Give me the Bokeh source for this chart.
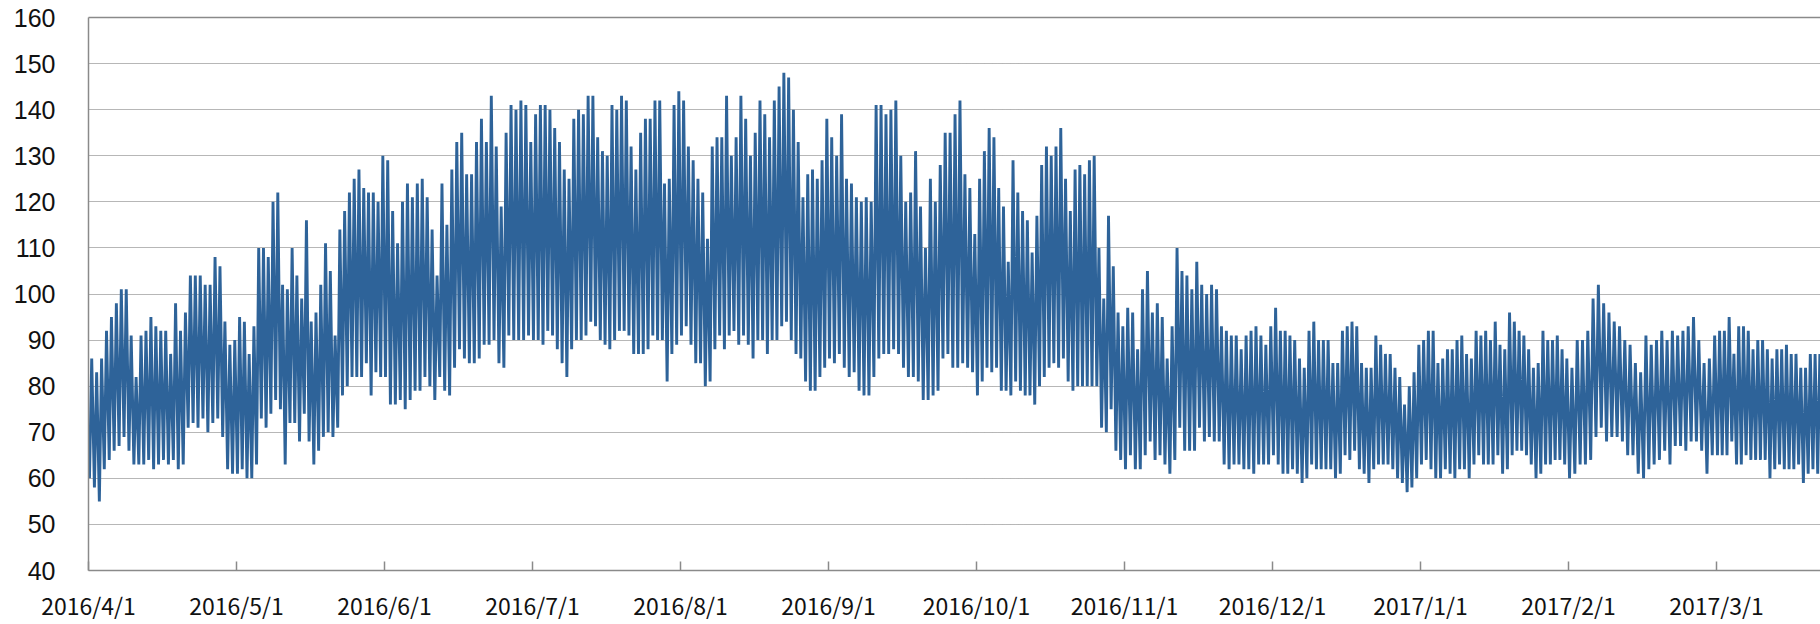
from bokeh.plotting import figure
from bokeh.models import FixedTicker, LinearAxis, Range1d, ColumnDataSource
from bokeh.embed import file_html
from bokeh.resources import INLINE

# ---- tick labels / categories ----
month_labels = ["2016/4/1", "2016/5/1", "2016/6/1", "2016/7/1", "2016/8/1", "2016/9/1",
                "2016/10/1", "2016/11/1", "2016/12/1", "2017/1/1", "2017/2/1", "2017/3/1"]
days_in_month = [30, 31, 30, 31, 31, 30, 31, 30, 31, 31, 28, 31]
y_ticks = [40, 50, 60, 70, 80, 90, 100, 110, 120, 130, 140, 150, 160]

# ---- daily peak (high) and night trough (low) values ----
apr_high = [86, 83, 86, 92, 95, 98, 101, 101, 91, 82, 91, 92, 95, 93, 92, 92, 87, 98, 92, 96,
            104, 104, 104, 102, 102, 108, 106, 94, 89, 90]
apr_low = [60, 58, 55, 62, 64, 66, 67, 69, 66, 63, 63, 63, 64, 62, 63, 64, 63, 64, 62, 63,
           71, 72, 71, 73, 70, 72, 73, 69, 62, 61]
may_high = [95, 94, 87, 93, 110, 110, 108, 120, 122, 102, 101, 110, 104, 99, 116, 94, 96, 102,
            111, 105, 91, 114, 118, 122, 125, 127, 123, 122, 122, 120, 130]
may_low = [61, 62, 60, 60, 63, 73, 71, 74, 77, 75, 63, 72, 72, 68, 74, 68, 63, 66, 69, 70, 69,
           71, 78, 80, 82, 82, 82, 85, 78, 83, 82]
jun_high = [129, 118, 111, 120, 124, 121, 124, 125, 121, 114, 104, 124, 115, 127, 133, 135, 126,
            126, 133, 138, 133, 143, 132, 119, 135, 141, 140, 142, 141, 133]
jun_low = [82, 76, 76, 77, 75, 77, 79, 79, 82, 80, 77, 82, 79, 78, 84, 88, 86, 85, 85, 86, 89,
           89, 90, 85, 84, 91, 90, 90, 90, 91]
jul_high = [139, 141, 141, 140, 136, 133, 127, 125, 138, 140, 139, 143, 143, 134, 131, 130, 141,
            140, 143, 142, 132, 127, 135, 138, 138, 142, 142, 124, 125, 141, 144]
jul_low = [90, 90, 89, 92, 91, 88, 85, 82, 88, 90, 90, 91, 94, 93, 90, 89, 88, 90, 92, 92, 91,
           87, 87, 87, 88, 91, 90, 90, 81, 87, 89]
aug_high = [142, 132, 129, 125, 122, 112, 132, 134, 134, 143, 130, 134, 143, 138, 130, 135, 142,
            139, 134, 142, 145, 148, 147, 140, 133, 121, 126, 127, 125, 129, 138]
aug_low = [91, 93, 89, 85, 85, 80, 81, 88, 91, 88, 91, 92, 89, 91, 89, 86, 90, 90, 87, 90, 90,
           93, 94, 90, 87, 86, 81, 79, 79, 82, 84]
sep_high = [134, 130, 139, 125, 124, 121, 120, 121, 120, 141, 141, 139, 140, 142, 130, 120, 122,
            131, 119, 110, 125, 120, 128, 135, 135, 139, 142, 126, 123, 113]
sep_low = [86, 85, 87, 84, 82, 83, 79, 78, 78, 82, 86, 87, 87, 88, 87, 84, 82, 82, 81, 77, 77,
           78, 79, 86, 87, 84, 84, 85, 84, 83]
oct_high = [125, 131, 136, 134, 123, 119, 107, 129, 122, 118, 116, 109, 117, 128, 132, 130, 132,
            136, 125, 118, 127, 128, 126, 129, 130, 110, 99, 117, 106, 96, 93]
oct_low = [78, 81, 84, 83, 84, 79, 79, 78, 81, 79, 78, 78, 76, 80, 82, 84, 85, 84, 86, 81, 79,
           80, 80, 80, 80, 80, 71, 70, 75, 66, 64]
nov_high = [97, 96, 88, 101, 105, 96, 98, 95, 86, 93, 110, 105, 104, 101, 107, 102, 100, 102,
            101, 93, 92, 91, 91, 88, 91, 92, 93, 91, 89, 93]
nov_low = [62, 65, 62, 62, 65, 68, 64, 65, 63, 61, 64, 71, 66, 66, 66, 71, 68, 69, 68, 68, 63,
           62, 63, 63, 62, 62, 61, 63, 63, 63]
dec_high = [97, 92, 92, 91, 90, 86, 84, 92, 94, 90, 90, 90, 85, 85, 92, 93, 94, 93, 85, 84, 84,
            91, 89, 87, 87, 84, 82, 76, 80, 83, 89]
dec_low = [65, 63, 61, 61, 62, 61, 59, 60, 63, 62, 62, 62, 62, 60, 61, 65, 64, 66, 62, 61, 59,
           62, 63, 63, 63, 62, 60, 59, 57, 58, 60]
jan_high = [90, 92, 92, 85, 86, 88, 88, 90, 91, 87, 86, 92, 91, 92, 90, 94, 89, 88, 96, 94, 92,
            91, 88, 84, 85, 92, 90, 90, 91, 88, 86]
jan_low = [63, 64, 62, 60, 60, 62, 61, 60, 62, 62, 60, 63, 65, 63, 63, 63, 65, 61, 62, 65, 66,
           66, 65, 63, 60, 61, 63, 63, 64, 64, 63]
feb_high = [84, 90, 90, 92, 99, 102, 98, 96, 94, 93, 90, 89, 85, 83, 91, 89, 90, 92, 90, 92, 91,
            92, 93, 95, 90, 85, 86, 91]
feb_low = [60, 61, 63, 63, 64, 69, 71, 68, 69, 69, 68, 65, 65, 61, 60, 62, 63, 64, 66, 63, 67,
           67, 66, 68, 68, 66, 61, 65]
mar_high = [92, 92, 95, 87, 93, 93, 92, 88, 90, 90, 88, 86, 88, 88, 89, 87, 87, 84, 84, 87, 87,
            87, 87]
mar_low = [65, 65, 65, 68, 63, 63, 65, 64, 64, 64, 64, 60, 62, 63, 62, 62, 62, 63, 59, 61, 62,
           61, 62]

highs = [apr_high, may_high, jun_high, jul_high, aug_high, sep_high,
         oct_high, nov_high, dec_high, jan_high, feb_high, mar_high]
lows = [apr_low, may_low, jun_low, jul_low, aug_low, sep_low,
        oct_low, nov_low, dec_low, jan_low, feb_low, mar_low]

# category-style axis: every month takes one equal unit, days spread inside it
xs, ys = [], []
for m, (hi, lo) in enumerate(zip(highs, lows)):
    n = days_in_month[m]
    for d, (h, l) in enumerate(zip(hi, lo)):
        xs.append(m + (d + 0.2) / n)
        ys.append(l)
        xs.append(m + (d + 0.65) / n)
        ys.append(h)

src = ColumnDataSource(data=dict(x=xs, y=ys))

W, H = 1820, 624
LEFT, TOP, BOTTOM = 88, 17, 51
month_px = 148.0
x_end = (W - LEFT) / month_px

p = figure(width=W, height=H, output_backend="svg", toolbar_location=None,
           x_range=Range1d(0, x_end), y_range=Range1d(40, 160),
           x_axis_location=None, y_axis_location=None,
           min_border_left=LEFT, min_border_right=0, min_border_top=TOP, min_border_bottom=BOTTOM,
           background_fill_color="white", border_fill_color="white")
p.outline_line_color = None

p.ygrid.ticker = FixedTicker(ticks=y_ticks[1:-1])
p.ygrid.grid_line_color = "#6e6e6e"
p.ygrid.grid_line_width = 1
p.ygrid.grid_line_dash = "1 1"
p.xgrid.grid_line_color = None

p.line("x", "y", source=src, line_color="#2E6399", line_width=2.9, line_join="miter")

axis_col = "#8a8a8a"

yaxis = LinearAxis(ticker=FixedTicker(ticks=y_ticks))
yaxis.axis_line_color = axis_col
yaxis.axis_line_width = 1.5
yaxis.major_tick_line_color = None
yaxis.major_tick_in = 0
yaxis.major_tick_out = 0
yaxis.minor_tick_line_color = None
yaxis.major_label_standoff = 33
yaxis.major_label_text_font = "Liberation Sans"
yaxis.major_label_text_font_size = "25px"
yaxis.major_label_text_color = "#111111"
p.add_layout(yaxis, "left")

xaxis = LinearAxis(ticker=FixedTicker(ticks=list(range(len(month_labels)))))
xaxis.major_label_overrides = {i: lab for i, lab in enumerate(month_labels)}
xaxis.axis_line_color = axis_col
xaxis.axis_line_width = 1.5
xaxis.major_tick_line_color = axis_col
xaxis.major_tick_line_width = 1.5
xaxis.major_tick_in = 9
xaxis.major_tick_out = 0
xaxis.minor_tick_line_color = None
xaxis.major_label_standoff = 17
xaxis.major_label_text_font = "Noto Sans CJK JP"
xaxis.major_label_text_font_size = "23px"
xaxis.major_label_text_color = "#111111"
p.add_layout(xaxis, "below")

top = LinearAxis(ticker=FixedTicker(ticks=[]))
top.axis_line_color = axis_col
top.axis_line_width = 1.5
top.major_tick_line_color = None
top.major_tick_in = 0
top.major_tick_out = 0
top.minor_tick_line_color = None
top.major_label_standoff = 0
top.major_label_text_font_size = "0px"
p.add_layout(top, "above")

open("out.html", "w").write(file_html(p, INLINE))
